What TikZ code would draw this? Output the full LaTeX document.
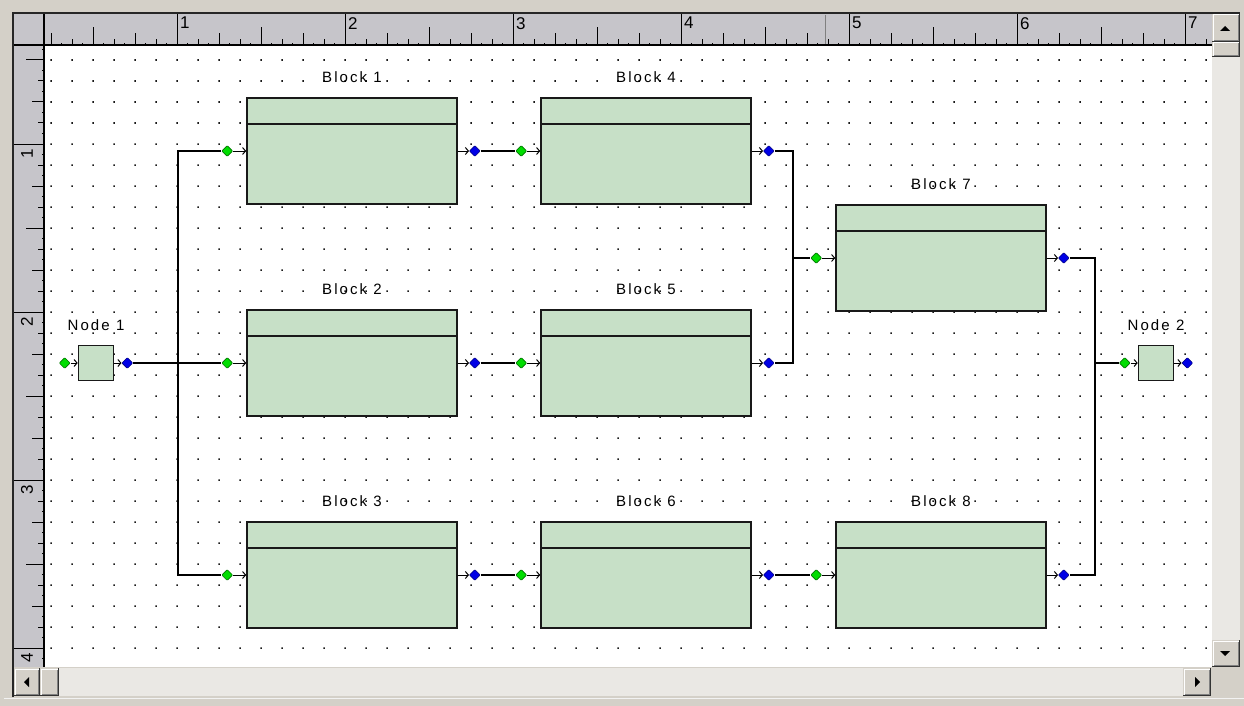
\documentclass[tikz,border=0pt]{standalone}
\usepackage{fontspec}
\newfontfamily\guifont[LetterSpace=14]{Liberation Sans}
\usetikzlibrary{shapes.geometric,arrows.meta,positioning}

\definecolor{facegray}{HTML}{D4D0C8}
\definecolor{rulergray}{HTML}{C6C5CA}
\definecolor{shadegray}{HTML}{808080}
\definecolor{trackgray}{HTML}{EAE8E4}
\definecolor{blockgreen}{HTML}{C7E0C7}
\definecolor{portgreen}{HTML}{00DD00}
\definecolor{portblue}{HTML}{0000E6}

% bottone 3D della barra di scorrimento
\newcommand{\winbutton}[4]{%
  \fill[facegray] (#1,#2) rectangle (#3,#4);
  \draw[white,line width=1pt] (#1+1,#4-1) -- (#1+1,#2+1) -- (#3-1,#2+1);
  \draw[shadegray,line width=1pt] (#1+1.5,#4-1.5) -- (#3-1.5,#4-1.5) -- (#3-1.5,#2+1.5);
  \draw[black!80,line width=1pt] (#1,#4-0.5) -- (#3-0.5,#4-0.5) -- (#3-0.5,#2);
}

\begin{document}
\begin{tikzpicture}[x=1pt,y=-1pt,
  block/.style={draw=black!90,line width=1.6pt,fill=blockgreen,minimum width=210pt,minimum height=106pt,inner sep=0pt},
  smallbox/.style={draw=black!90,line width=1.6pt,fill=blockgreen,minimum size=35pt,inner sep=0pt},
  inport/.style={diamond,aspect=1,rounded corners=0.7pt,draw=green!45!black,line width=0.6pt,fill=portgreen,minimum size=11pt,inner sep=0pt},
  outport/.style={diamond,aspect=1,rounded corners=0.7pt,draw=blue!50!black,line width=0.6pt,fill=portblue,minimum size=11pt,inner sep=0pt},
  wire/.style={draw=black,line width=1.4pt},
  stub/.style={draw=black,line width=1pt,-{Straight Barb[length=3pt,width=7pt]}},
  band/.style={draw=black!90,line width=1.6pt},
  lbl/.style={font=\guifont\fontsize{15}{17}\selectfont,inner sep=0pt},
  rnum/.style={font=\guifont\fontsize{17}{19}\selectfont,inner sep=0pt},
  tick/.style={draw=black,line width=1pt}]

\useasboundingbox (0,0) rectangle (1244,706);

% --- Finestra ---
\fill[facegray] (0,0) rectangle (1244,706);
\fill[white] (44,46) rectangle (1212,667);
\fill[rulergray] (13,14) rectangle (1212,45);
\fill[rulergray] (13,14) rectangle (44,667);

% --- Griglia ---
\fill[black!90] \foreach \x in {51,72,...,1207} {\foreach \y in {60,81,...,648} {(\x-0.75,\y-0.75) rectangle ++(1.6,1.6)}};

% --- Righello orizzontale ---
\foreach \k in {4,...,114}{
  \pgfmathsetmacro\tx{9+10.5*\k}
  \pgfmathtruncatemacro\m{mod(\k,16)}
  \pgfmathsetmacro\th{ifthenelse(\m==0,31,ifthenelse(\m==8,18,ifthenelse(mod(\k,4)==0,12,ifthenelse(mod(\k,2)==0,6,2))))}
  \draw[tick] (\tx,45) -- ++(0,-\th);
  \ifnum\m=0
    \pgfmathtruncatemacro\n{\k/16}
    \node[rnum,anchor=north west] (rx\n) at (\tx+3,17) {\n};
  \fi
}
\draw[shadegray,line width=1pt] (825,15) -- (825,45);

% --- Righello verticale ---
\foreach \k in {7,...,65}{
  \pgfmathsetmacro\ty{-24+10.5*\k}
  \pgfmathtruncatemacro\m{mod(\k,16)}
  \pgfmathsetmacro\th{ifthenelse(\m==0,31,ifthenelse(\m==8,18,ifthenelse(mod(\k,4)==0,12,ifthenelse(mod(\k,2)==0,6,2))))}
  \draw[tick] (44,\ty) -- ++(-\th,0);
  \ifnum\m=0
    \pgfmathtruncatemacro\n{\k/16}
    \node[rnum,rotate=90] (ry\n) at (27,\ty+10) {\n};
  \fi
}

% --- Bordi dei righelli ---
\draw[black,line width=1.2pt] (13,45) -- (1212,45);
\draw[black,line width=1.2pt] (44,14) -- (44,667);
\draw[black!85,line width=2pt] (13,697) -- (13,13) -- (1240,13);

% --- Barre di scorrimento ---
\fill[trackgray] (1212,57) rectangle (1240,640);
\fill[trackgray] (59,668) rectangle (1183,696);
\winbutton{1212}{14}{1240}{42}
\winbutton{1212}{42}{1240}{57}
\winbutton{1212}{640}{1240}{667}
\winbutton{14}{668}{40}{696}
\winbutton{40}{668}{59}{696}
\winbutton{1183}{668}{1211}{696}
\fill (1220,31) -- (1230,31) -- (1225,26) -- cycle;
\fill (1220,651) -- (1230,651) -- (1225,656) -- cycle;
\fill (29,677) -- (29,687) -- (24,682) -- cycle;
\fill (1195,677) -- (1195,687) -- (1200,682) -- cycle;
\draw[white!95!black,line width=1.5pt] (4,698.5) -- (1244,698.5);

% --- Blocchi ---
\foreach \n/\x/\y in {1/352/151, 4/646/151, 7/941/258, 2/352/363, 5/646/363, 3/352/575, 6/646/575, 8/941/575}{
  \node[block] (b\n) at (\x,\y) {};
  \draw[band] ([yshift=-27pt]b\n.north west) -- ([yshift=-27pt]b\n.north east);
  \node[lbl] (t\n) at ([yshift=20pt]b\n.north) {Block \n};
  \node[inport] (i\n) at ([xshift=-19pt]b\n.west) {};
  \node[outport] (o\n) at ([xshift=17pt]b\n.east) {};
  \draw[stub] (i\n) -- (b\n);
  \draw[stub] (b\n) -- (o\n);
}

% --- Nodi ---
\node[smallbox] (n1) at (96,363) {};
\node[lbl] (tn1) at ([yshift=20pt]n1.north) {Node 1};
\node[inport] (n1i) at ([xshift=-13pt]n1.west) {};
\node[outport] (n1o) at ([xshift=13pt]n1.east) {};
\draw[stub] (n1i) -- (n1);
\draw[stub] (n1) -- (n1o);

\node[smallbox] (n2) at (1156,363) {};
\node[lbl] (tn2) at ([yshift=20pt]n2.north) {Node 2};
\node[inport] (n2i) at ([xshift=-13pt]n2.west) {};
\node[outport] (n2o) at ([xshift=13pt]n2.east) {};
\draw[stub] (n2i) -- (n2);
\draw[stub] (n2) -- (n2o);

% --- Collegamenti ---
\coordinate (busA) at (178,363);
\coordinate (busB) at (793,258);
\coordinate (busC) at (1095,363);
\draw[wire] (n1o) -- (i2);
\draw[wire] (i1) -| (busA) |- (i3);
\draw[wire] (o1) -- (i4);
\draw[wire] (o2) -- (i5);
\draw[wire] (o3) -- (i6);
\draw[wire] (o6) -- (i8);
\draw[wire] (o4) -| (busB) |- (o5);
\draw[wire] (busB) -- (i7);
\draw[wire] (o7) -| (busC) |- (o8);
\draw[wire] (busC) -- (n2i);

\end{tikzpicture}
\end{document}
